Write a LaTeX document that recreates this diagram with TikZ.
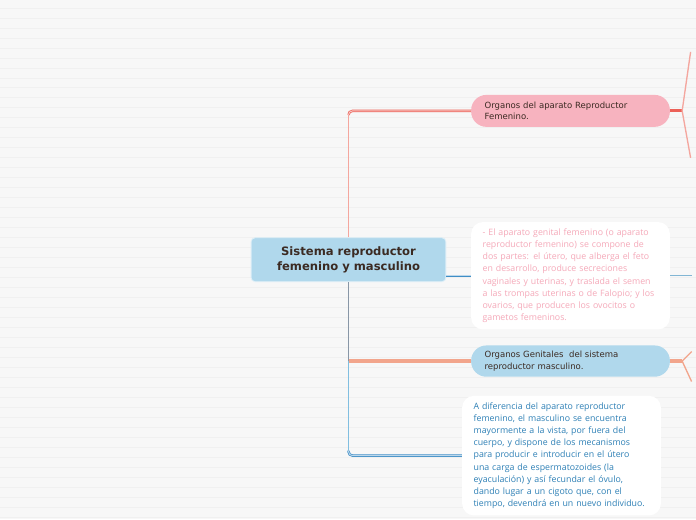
\documentclass[tikz,border=0pt]{standalone}
\usepackage{fontspec}
\setmainfont{DejaVu Sans}
\newfontfamily\notefont{Open Sans}
\usepackage{tikz}
\usetikzlibrary{positioning,calc}
\usepackage{xcolor}

\definecolor{paper}{HTML}{F7F7F7}
\definecolor{stripe}{HTML}{F0F0F0}
\definecolor{skyfill}{HTML}{B0D8EC}
\definecolor{rosefill}{HTML}{F7B3BF}
\definecolor{rosetext}{HTML}{F5A9B9}
\definecolor{oceantext}{HTML}{2E80B6}
\definecolor{darktext}{HTML}{3B2A22}
\definecolor{salmonline}{HTML}{F4A69E}
\definecolor{redline}{HTML}{EC6158}
\definecolor{orangeline}{HTML}{F2A58C}
\definecolor{blueline}{HTML}{3F8EC6}
\definecolor{paleblue}{HTML}{80BEE0}
\definecolor{slateline}{HTML}{8896A6}

\begin{document}
\begin{tikzpicture}[x=0.75pt, y=-0.75pt,
    pill/.style={fill=#1, rounded corners=11.5pt, minimum width=149.25pt,
        text width=129pt, inner xsep=9.5pt, align=left, anchor=west,
        font=\fontsize{6.4}{8.6}\selectfont, text=darktext},
    notebox/.style={fill=white, rounded corners=9pt, minimum width=149.25pt,
        text width=132pt, inner xsep=8pt, inner ysep=5pt, align=left,
        anchor=north west, font=\notefont\fontsize{6.6}{9.15}\selectfont, text=#1},
    twin/.style={draw=#1, line width=0.55pt, double=#1!35, double distance=0.7pt},
    twig/.style={draw=#1, line width=1pt}
]

    % background paper with faint rules
    \fill[paper] (0,0) rectangle (696,520);
    \foreach \y in {8,18,...,518}
        \draw[stripe, line width=0.6pt] (0,\y) -- (696,\y);
    \useasboundingbox (0,0) rectangle (696,520);

    % central topic
    \node[fill=skyfill, draw=white!60!skyfill, line width=0.6pt, rounded corners=3pt,
        minimum width=146.25pt, minimum height=33pt, align=center,
        font=\bfseries\fontsize{8.7}{11.2}\selectfont, text=darktext]
        (center) at (348.5,260) {Sistema reproductor\\ femenino y masculino};

    % main topics and notes
    \node[pill=rosefill, minimum height=24pt] (fem) at (471,111)
        {Organos del aparato Reproductor\\Femenino.};

    \node[notebox=rosetext, minimum height=78.75pt] (femnote) at (471,222)
        {- El aparato genital femenino (o aparato\\
        reproductor femenino) se compone de\\
        dos partes: el útero, que alberga el feto\\
        en desarrollo, produce secreciones\\
        vaginales y uterinas, y traslada el semen\\
        a las trompas uterinas o de Falopio; y los\\
        ovarios, que producen los ovocitos o\\
        gametos femeninos.};

    \node[pill=skyfill, minimum height=23.5pt] (masc) at (471,361.5)
        {Organos Genitales\ \ del sistema\\reproductor masculino.};

    \node[notebox=oceantext, minimum height=87.75pt] (mascnote) at (462,396)
        {A diferencia del aparato reproductor\\
        femenino, el masculino se encuentra\\
        mayormente a la vista, por fuera del\\
        cuerpo, y dispone de los mecanismos\\
        para producir e introducir en el útero\\
        una carga de espermatozoides (la\\
        eyaculación) y así fecundar el óvulo,\\
        dando lugar a un cigoto que, con el\\
        tiempo, devendrá en un nuevo individuo.};

    % trunk and branches
    \draw[salmonline, line width=1.2pt] (center.north) -- ($(center.north |- fem.west)+(0,3)$);
    \draw[twin=redline, rounded corners=3pt] ($(center.north |- fem.west)+(0,4)$) |- (fem.west);

    \draw[twin=blueline] (center.east |- femnote.west) -- (femnote.west);

    \draw[paleblue, line width=1.4pt] (center.south) -- ($(center.south |- mascnote.west)+(0,-3)$);
    \draw[twin=blueline, rounded corners=3pt] ($(center.south |- mascnote.west)+(0,-5)$) |- (mascnote.west);
    \draw[slateline, line width=1.4pt] (center.south) -- (center.south |- masc.west);
    \draw[orangeline, line width=2.6pt] (center.south |- masc.west) -- (masc.west);

    % twigs on the right
    \coordinate (femfork) at ($(fem.east)+(12,0)$);
    \coordinate (femup) at (691,52);
    \coordinate (femdown) at (691,158);
    \draw[redline, line width=2.4pt] (fem.east) -- (femfork);
    \draw[twig=salmonline] (femup) -- (femfork) -- (femdown);

    \coordinate (noteend) at ($(femnote.east)+(22,0)$);
    \draw[paleblue!80!slateline, line width=0.7pt] (femnote.east) -- (noteend);

    \coordinate (mascfork) at ($(masc.east)+(12,0)$);
    \coordinate (mascup) at (692,352);
    \coordinate (mascdown) at (692,382);
    \draw[orangeline, line width=2.4pt] (masc.east) -- (mascfork);
    \draw[twig=orangeline] (mascup) -- (mascfork) -- (mascdown);

\end{tikzpicture}
\end{document}
